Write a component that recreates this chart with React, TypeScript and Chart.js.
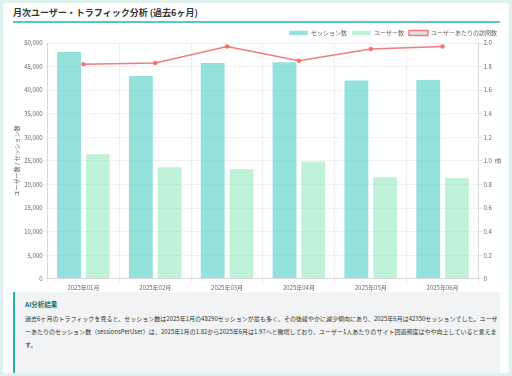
import React, { useEffect, useRef } from "react";
import { Chart, registerables } from "chart.js";

Chart.register(...registerables);

const months = ["2025年01月", "2025年02月", "2025年03月", "2025年04月", "2025年05月", "2025年06月"];
const sessions = [48290, 43200, 45950, 46150, 42250, 42350];
const users = [26600, 23850, 23450, 25100, 21750, 21600];
const sessionsPerUser = [1.82, 1.83, 1.97, 1.85, 1.95, 1.97];

const FONT = "'Noto Sans CJK JP', 'Noto Sans', sans-serif";
const F6 = { family: FONT, size: 6 };

const legendTighten = {
  id: "legendTighten",
  beforeInit(chart: any) {
    const orig = chart.legend.fit;
    chart.legend.fit = function fit() {
      orig.call(this);
      this.height -= 3;
    };
  },
};

export default function App() {
  const ref = useRef<HTMLCanvasElement | null>(null);

  useEffect(() => {
    document.body.style.margin = "0";
    const ctx = ref.current!;
    const chart = new Chart(ctx, {
      type: "bar",
      data: {
        labels: months,
        datasets: [
          {
            type: "bar",
            label: "セッション数",
            data: sessions,
            backgroundColor: "rgba(78,205,196,0.6)",
            borderColor: "rgba(255,255,255,0.5)",
            borderWidth: 1,
            yAxisID: "y",
            order: 1,
          },
          {
            type: "bar",
            label: "ユーザー数",
            data: users,
            backgroundColor: "rgba(129,230,180,0.5)",
            borderColor: "rgba(255,255,255,0.5)",
            borderWidth: 1,
            yAxisID: "y",
            order: 1,
          },
          {
            type: "line",
            label: "ユーザーあたりの訪問数",
            data: sessionsPerUser,
            borderColor: "rgba(240,100,100,0.85)",
            backgroundColor: "rgba(220,220,220,0.8)",
            borderWidth: 1.5,
            pointRadius: 1.5,
            pointBackgroundColor: "rgba(240,120,120,0.6)",
            yAxisID: "y1",
            order: 0,
            tension: 0,
          } as any,
        ],
      },
      plugins: [legendTighten],
      options: {
        animation: false,
        responsive: true,
        maintainAspectRatio: false,
        layout: { padding: 0 },
        plugins: {
          legend: {
            position: "top",
            align: "end",
            labels: {
              boxWidth: 19,
              boxHeight: 5,
              padding: 5,
              font: F6,
              color: "#666",
              sort: (a: any, b: any) => a.datasetIndex - b.datasetIndex,
            },
          },
          tooltip: { enabled: false },
        },
        scales: {
          x: {
            ticks: { font: F6, color: "#666", maxRotation: 0, padding: 1 },
            grid: { color: "rgba(0,0,0,0.06)", tickLength: 4 },
          },
          y: {
            position: "left",
            min: 0,
            max: 50000,
            ticks: { stepSize: 5000, font: F6, color: "#666", padding: 1 },
            grid: { color: "rgba(0,0,0,0.06)", tickLength: 4 },
            title: { display: true, text: "ユーザー数 / セッション数", font: F6, color: "#666", padding: { top: 0, bottom: 3 } },
          },
          y1: {
            position: "right",
            min: 0,
            max: 2,
            ticks: { stepSize: 0.2, font: F6, color: "#666", padding: 1 },
            grid: { drawOnChartArea: false, color: "rgba(0,0,0,0.1)", tickLength: 4 },
            title: { display: true, text: "倍", font: F6, color: "#666", padding: { top: 0, bottom: 2 } },
          },
        },
      },
    });
    return () => chart.destroy();
  }, []);

  return (
    <div style={{ position: "relative", width: 512, height: 376, background: "#dff2f0", overflow: "hidden", fontFamily: FONT }}>
      <div style={{ position: "absolute", left: 3, top: 3, width: 506, height: 370, background: "#fff", borderRadius: 3, overflow: "hidden" }}>
        <div style={{ position: "absolute", left: 10, top: 3, fontSize: 9, fontWeight: 700, color: "#333", whiteSpace: "nowrap" }}>
          月次ユーザー・トラフィック分析 (過去6ヶ月)
        </div>
        <div style={{ position: "absolute", left: 10, top: 18, width: 487, height: 2, background: "#5cc8ba" }} />
        <div style={{ position: "absolute", left: 10, top: 22, width: 489, height: 267 }}>
          <canvas ref={ref} />
        </div>
        <div
          style={{
            position: "absolute",
            left: 10,
            top: 289,
            width: 475,
            height: 90,
            background: "#f2f3f5",
            borderLeft: "2px solid #26b5a0",
            padding: "7px 0 0 10px",
            boxSizing: "content-box",
          }}
        >
          <div style={{ fontSize: 6.5, fontWeight: 700, color: "#1f6f66", marginBottom: 3 }}>AI分析結果</div>
          <div style={{ fontSize: 6.02, lineHeight: "13px", color: "#333" }}>
            過去6ヶ月のトラフィックを見ると、セッション数は2025年1月の48290セッションが最も多く、その後緩やかに減少傾向にあり、2025年6月は42350セッションでした。ユーザーあたりのセッション数（sessionsPerUser）は、2025年1月の1.82から2025年6月は1.97へと微増しており、ユーザー1人あたりのサイト回遊頻度はやや向上していると言えます。
          </div>
        </div>
      </div>
    </div>
  );
}
